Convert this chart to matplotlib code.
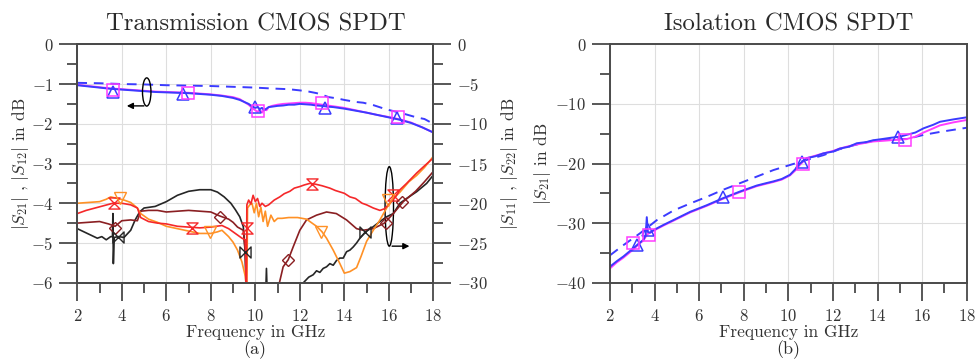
import numpy as np
import matplotlib
matplotlib.use("Agg")
import matplotlib.pyplot as plt
from matplotlib.ticker import MultipleLocator
from matplotlib.patches import Ellipse
from matplotlib.path import Path

plt.rcParams['font.family'] = 'serif'
plt.rcParams['font.serif'] = ['cmr10', 'DejaVu Serif']
plt.rcParams['mathtext.fontset'] = 'cm'
plt.rcParams['axes.formatter.use_mathtext'] = True

# ---------------- (a) transmission, left axis |S21|,|S12| ----------------
f_s21 = [2, 2.5, 3, 3.5, 4, 4.5, 5, 5.5, 6, 6.5, 7, 7.5, 8, 8.5, 9, 9.3, 9.5, 9.7, 9.85, 10.0, 10.1, 10.2,
         10.3, 10.4, 10.5, 10.6, 10.75, 11.0, 11.25, 11.5, 11.75, 12.0, 12.25, 12.5, 12.75, 13.0, 13.25, 13.5,
         13.75, 14.0, 14.5, 15.0, 15.5, 16.0, 16.5, 17.0, 17.5, 18.0]
s21_blue = [-1.03, -1.06, -1.09, -1.12, -1.14, -1.16, -1.18, -1.20, -1.21, -1.22, -1.23, -1.25, -1.27, -1.30,
            -1.35, -1.40, -1.45, -1.50, -1.56, -1.60, -1.58, -1.63, -1.60, -1.66, -1.62, -1.58, -1.57, -1.55,
            -1.54, -1.52, -1.52, -1.50, -1.51, -1.52, -1.54, -1.55, -1.57, -1.58, -1.60, -1.62, -1.67, -1.72,
            -1.78, -1.84, -1.90, -1.98, -2.09, -2.22]
s21_magenta = [-1.02, -1.05, -1.08, -1.11, -1.13, -1.15, -1.17, -1.19, -1.20, -1.21, -1.22, -1.24, -1.26, -1.29,
               -1.33, -1.38, -1.45, -1.52, -1.60, -1.66, -1.70, -1.65, -1.72, -1.62, -1.66, -1.58, -1.55, -1.52,
               -1.50, -1.49, -1.48, -1.47, -1.47, -1.48, -1.50, -1.52, -1.54, -1.56, -1.58, -1.60, -1.66, -1.72,
               -1.78, -1.83, -1.89, -1.97, -2.09, -2.22]
f_s21_dash = [2, 3, 4, 5, 6, 7, 8, 9, 10, 10.66, 11.5, 12.0, 12.4, 12.76, 13.0, 13.3, 13.66, 14.0, 14.5,
              14.85, 15.3, 15.9, 16.5, 17.25, 17.6, 18.0]
s21_dash = [-0.97, -0.98, -1.0, -1.01, -1.03, -1.04, -1.05, -1.07, -1.09, -1.11, -1.13, -1.16, -1.19, -1.23,
            -1.27, -1.33, -1.36, -1.40, -1.45, -1.47, -1.53, -1.64, -1.72, -1.84, -1.88, -2.0]
mk_blue_f = [3.61, 6.76, 9.99, 13.13, 16.35]
mk_blue_v = [-1.19, -1.26, -1.59, -1.61, -1.86]
mk_mag_f = [3.61, 6.99, 10.13, 12.98, 16.4]
mk_mag_v = [-1.15, -1.22, -1.69, -1.48, -1.82]

# ---------------- (a) right axis |S11|,|S22| ----------------
f_orange = [2.0, 2.5, 3.0, 3.3, 3.5, 3.8, 4.1, 4.4, 4.7, 4.85, 5.2, 5.6, 6.0, 6.5, 7.0, 7.5, 8.0, 8.3, 8.5,
            8.8, 9.0, 9.2, 9.4, 9.55, 9.62, 9.65, 9.75, 9.85, 9.95, 10.05, 10.15, 10.25, 10.35, 10.45, 10.55,
            10.7, 10.85, 11.0, 11.2, 11.5, 11.9, 12.3, 12.75, 13.0, 13.2, 13.5, 13.8, 14.0, 14.25, 14.55,
            14.75, 15.0, 15.3, 15.6, 15.9, 16.2, 16.5, 16.9, 17.25, 17.6, 18.0]
s_orange = [-20.0, -19.9, -19.8, -19.5, -19.2, -19.4, -19.6, -19.9, -20.6, -21.3, -22.0, -22.4, -22.9, -23.2,
            -23.5, -23.8, -23.8, -23.6, -23.4, -24.2, -24.9, -25.9, -27.4, -29.2, -31.0, -20.6, -20.2, -20.0,
            -21.2, -20.0, -21.7, -20.5, -22.3, -21.0, -22.9, -21.5, -22.3, -21.9, -21.9, -21.8, -21.8, -22.0,
            -22.9, -23.6, -24.4, -25.9, -27.6, -28.8, -28.6, -28.1, -26.7, -24.8, -23.4, -22.1, -20.6, -19.4,
            -18.6, -17.3, -16.5, -15.5, -14.1]
f_red = [2.0, 2.4, 2.8, 3.2, 3.6, 4.0, 4.4, 4.7, 4.85, 5.2, 5.6, 6.0, 6.5, 7.0, 7.5, 8.0, 8.5, 8.8, 9.0, 9.2,
         9.4, 9.55, 9.6, 9.62, 9.7, 9.8, 9.9, 10.0, 10.1, 10.2, 10.3, 10.45, 10.6, 10.85, 11.1, 11.3, 11.55,
         11.75, 12.0, 12.2, 12.45, 12.7, 13.0, 13.35, 13.6, 14.0, 14.25, 14.5, 14.8, 15.0, 15.3, 15.6, 15.8,
         16.05, 16.3, 16.5, 16.8, 17.25, 17.6, 18.0]
s_red = [-21.3, -20.9, -20.6, -20.3, -20.0, -20.0, -20.2, -20.6, -21.8, -22.3, -22.5, -22.6, -22.9, -23.0,
         -23.1, -23.0, -22.8, -23.2, -23.6, -24.0, -24.4, -24.6, -31.0, -20.2, -19.6, -20.1, -19.0, -19.8,
         -19.4, -20.4, -20.0, -20.4, -20.2, -19.6, -19.2, -18.8, -18.5, -18.1, -17.9, -17.7, -17.5, -17.6,
         -17.8, -18.1, -18.4, -18.75, -19.2, -19.4, -20.0, -20.2, -20.6, -20.9, -20.7, -20.0, -19.2, -18.3,
         -17.5, -16.2, -15.3, -14.3]
f_brown = [2.0, 2.5, 3.0, 3.4, 3.7, 4.0, 4.4, 4.7, 4.85, 5.2, 5.6, 6.0, 6.5, 7.0, 7.5, 8.0, 8.4, 8.8, 9.0,
           9.2, 9.46, 9.55, 9.62, 10.3, 11.0, 11.25, 11.48, 11.7, 12.0, 12.3, 12.75, 13.2, 13.64, 14.1,
           14.55, 14.85, 15.3, 15.8, 16.2, 16.65, 17.2, 17.6, 18.0]
s_brown = [-22.5, -22.4, -22.3, -22.6, -22.9, -22.2, -22.1, -22.2, -21.0, -20.9, -20.9, -21.1, -21.0, -20.9,
           -21.0, -21.1, -21.6, -22.0, -22.4, -23.0, -23.4, -26.0, -32.0, -36.0, -31.0, -28.0, -27.1, -25.5,
           -23.4, -22.1, -21.5, -21.1, -21.3, -22.1, -23.2, -23.4, -23.2, -22.5, -21.3, -19.8, -18.5, -17.3,
           -16.0]
f_black = [2.0, 2.3, 2.6, 2.9, 3.1, 3.3, 3.5, 3.58, 3.6, 3.62, 3.66, 3.85, 4.1, 4.4, 4.6, 4.8, 5.0, 5.5, 6.0,
           6.5, 7.0, 7.5, 8.0, 8.3, 8.6, 8.9, 9.1, 9.3, 9.46, 9.54, 9.6, 10.0, 10.45, 10.5, 10.55, 11.0, 12.0,
           12.16, 12.4, 12.6, 12.75, 12.9, 13.05, 13.2, 13.35, 13.5, 13.65, 13.8, 13.95, 14.1, 14.25, 14.4,
           14.55, 14.7, 14.95, 15.3, 15.6, 15.9, 16.2, 16.5, 16.8, 17.25, 17.7, 18.0]
s_black = [-23.2, -23.6, -24.0, -24.4, -24.2, -24.6, -24.2, -24.2, -21.3, -27.6, -24.3, -24.2, -24.3, -23.4,
           -22.1, -21.1, -20.6, -20.4, -19.8, -19.0, -18.5, -18.3, -18.3, -18.6, -19.2, -20.0, -20.8, -21.7,
           -22.95, -26.1, -33.0, -35.0, -33.0, -28.2, -33.0, -36.0, -33.0, -30.0, -29.3, -29.0, -28.5, -28.7,
           -28.2, -28.0, -27.6, -27.8, -27.2, -26.9, -26.9, -26.1, -25.9, -25.5, -25.0, -24.4, -23.6, -22.95,
           -22.3, -21.7, -21.3, -20.0, -19.4, -18.55, -17.5, -16.45]
mk_red_f = [3.65, 7.14, 9.61, 12.53, 16.2]
mk_red_v = [-20.0, -23.1, -23.1, -17.6, -19.0]
mk_orange_f = [3.92, 7.96, 12.97, 15.98]
mk_orange_v = [-19.4, -23.6, -23.6, -19.6]
mk_brown_f = [3.69, 8.42, 11.48, 15.85, 16.6]
mk_brown_v = [-23.1, -21.7, -27.1, -22.5, -19.8]
mk_black_f = [3.84, 9.54, 14.95]
mk_black_v = [-24.2, -26.1, -23.6]

# ---------------- (b) isolation ----------------
f_iso = [2, 2.3, 2.6, 3.05, 3.3, 3.5, 3.6, 3.65, 3.7, 3.8, 3.94, 4.4, 4.84, 5.6, 6.34, 7.08, 7.83, 8.58, 9.0,
         9.33, 9.7, 10.07, 10.3, 10.52, 10.82, 11.2, 11.57, 12.0, 12.3, 12.7, 13.07, 13.5, 13.8, 14.2, 14.56,
         15.0, 15.3, 15.7, 16.06, 16.5, 16.8, 17.4, 18.0]
iso_blue = [-37.3, -36.4, -35.6, -34.2, -33.4, -32.8, -32.0, -29.0, -31.5, -31.6, -31.2, -30.3, -29.5, -28.1,
            -27.0, -25.8, -24.7, -23.7, -23.3, -23.0, -22.6, -21.9, -21.0, -20.0, -19.1, -18.8, -18.3, -18.0,
            -17.5, -17.2, -16.6, -16.4, -16.1, -15.9, -15.7, -15.5, -15.2, -14.8, -14.1, -13.5, -13.0, -12.6,
            -12.25]
iso_magenta = [-37.6, -36.6, -35.8, -34.4, -33.5, -32.9, -32.3, -32.0, -31.8, -31.6, -31.3, -30.4, -29.6,
               -28.2, -27.1, -25.9, -24.8, -23.8, -23.4, -23.1, -22.7, -22.0, -21.2, -20.2, -19.1, -18.7,
               -18.3, -17.9, -17.5, -17.1, -16.8, -16.5, -16.3, -16.2, -16.1, -16.0, -15.9, -15.5, -14.8,
               -14.1, -13.6, -13.1, -12.7]
f_iso_dash = [2, 2.6, 3.35, 4.1, 4.84, 5.6, 6.34, 7.08, 7.83, 8.58, 9.33, 10.07, 10.82, 11.57, 12.3, 13.07,
              13.8, 14.56, 15.3, 16.06, 16.8, 18.0]
iso_dash = [-35.4, -33.7, -31.7, -29.5, -27.9, -26.7, -25.6, -24.4, -23.3, -22.2, -21.1, -20.25, -19.4, -18.6,
            -17.6, -16.8, -16.2, -15.9, -15.9, -15.2, -14.7, -14.0]
mk_iso_blue_f = [3.2, 3.72, 7.08, 10.6, 14.93]
mk_iso_blue_v = [-33.7, -31.2, -25.7, -19.7, -15.5]
mk_iso_mag_f = [3.05, 3.76, 7.8, 10.67, 15.23]
mk_iso_mag_v = [-33.4, -32.0, -24.8, -20.0, -16.1]

# ---------------- styling ----------------
BLUE = '#3b3bff'
MAG = '#ff3cff'
RED = '#f5282a'
ORANGE = '#ff9126'
BROWN = '#8a1f22'
BLACK = '#262626'
SPINE = '#4a4a4a'
TXT = '#333333'
LBL = 12.5
TICK = 12

hourglass = Path([(-1, 1), (1, 1), (-1, -1), (1, -1), (-1, 1)],
                 [Path.MOVETO, Path.LINETO, Path.LINETO, Path.LINETO, Path.CLOSEPOLY])
bowtie = Path([(-1, 1), (-1, -1), (1, 1), (1, -1), (-1, 1)],
              [Path.MOVETO, Path.LINETO, Path.LINETO, Path.LINETO, Path.CLOSEPOLY])

fig = plt.figure(figsize=(9.76, 3.59), dpi=100)
axA = fig.add_axes([0.0792, 0.2125, 0.3648, 0.6641])
axB = fig.add_axes([0.625, 0.2125, 0.3655, 0.6641])


def spines_ticks(ax, **kw):
    for s in ax.spines.values():
        s.set_color(SPINE)
        s.set_linewidth(1.4)
    ax.tick_params(which='major', direction='out', length=13, width=1.3, color=SPINE,
                   labelsize=TICK, labelcolor=TXT, **kw)
    ax.tick_params(which='minor', direction='out', length=7, width=1.3, color=SPINE)


def style(ax, ymajor, yminor):
    ax.set_xlim(2, 18)
    ax.xaxis.set_major_locator(MultipleLocator(2))
    ax.xaxis.set_minor_locator(MultipleLocator(1))
    ax.yaxis.set_major_locator(MultipleLocator(ymajor))
    ax.yaxis.set_minor_locator(MultipleLocator(yminor))
    ax.grid(True, which='major', color='#dedede', linewidth=0.8)
    ax.set_axisbelow(True)
    spines_ticks(ax, top=False, right=False)
    ax.tick_params(axis='x', which='major', pad=5)
    ax.tick_params(axis='y', which='major', pad=4)
    ax.set_xlabel('Frequency in GHz', fontsize=LBL, color=TXT, labelpad=1)


# ---- panel (a)
style(axA, 1, 0.5)
axA.set_ylim(-6, 0)
axA.plot(f_s21_dash, s21_dash, color=BLUE, lw=1.4, ls=(0, (5, 3.5)))
axA.plot(f_s21, s21_magenta, color=MAG, lw=1.4)
axA.plot(f_s21, s21_blue, color=BLUE, lw=1.4)
axA.plot(mk_blue_f, mk_blue_v, ls='none', marker='^', ms=8, mfc='none', mec=BLUE, mew=1.1)
axA.plot(mk_mag_f, mk_mag_v, ls='none', marker='s', ms=8, mfc='none', mec=MAG, mew=1.1)
axA.set_ylabel(r'$|S_{21}|$ , $|S_{12}|$ in dB', fontsize=LBL, color=TXT, labelpad=0)
axA.set_title('Transmission CMOS SPDT', fontsize=17.8, color='#2a2a2a', pad=10)

axA2 = axA.twinx()
axA2.set_ylim(-30, 0)
axA2.yaxis.set_major_locator(MultipleLocator(5))
axA2.yaxis.set_minor_locator(MultipleLocator(2.5))
spines_ticks(axA2, pad=4)
axA2.plot(f_black, s_black, color=BLACK, lw=1.2)
axA2.plot(f_brown, s_brown, color=BROWN, lw=1.2)
axA2.plot(f_orange, s_orange, color=ORANGE, lw=1.2)
axA2.plot(f_red, s_red, color=RED, lw=1.2)
axA2.plot(mk_red_f, mk_red_v, ls='none', marker=hourglass, ms=8, mfc='none', mec=RED, mew=1.0)
axA2.plot(mk_orange_f, mk_orange_v, ls='none', marker='v', ms=8, mfc='none', mec=ORANGE, mew=1.0)
axA2.plot(mk_brown_f, mk_brown_v, ls='none', marker='D', ms=6, mfc='none', mec=BROWN, mew=1.0)
axA2.plot(mk_black_f, mk_black_v, ls='none', marker=bowtie, ms=8, mfc='none', mec=BLACK, mew=1.0)
axA2.set_ylabel(r'$|S_{11}|$ , $|S_{22}|$ in dB', fontsize=LBL, color=TXT, labelpad=8)

# annotations (ellipses with arrows) in left-axis coordinates
axA.add_patch(Ellipse((5.12, -1.2), 0.38, 0.71, fill=False, ec='black', lw=1.0, zorder=5))
axA.annotate('', xy=(4.1, -1.55), xytext=(5.12, -1.55),
             arrowprops=dict(arrowstyle='-|>', color='black', lw=1.0, mutation_scale=9))
axA.add_patch(Ellipse((16.02, -4.08), 0.38, 2.0, fill=False, ec='black', lw=1.0, zorder=5))
axA.annotate('', xy=(17.05, -5.08), xytext=(16.02, -5.08),
             arrowprops=dict(arrowstyle='-|>', color='black', lw=1.0, mutation_scale=9))

fig.text(0.261, 0.025, '(a)', ha='center', va='center', fontsize=13, color='#2a2a2a')

# ---- panel (b)
style(axB, 10, 5)
axB.set_ylim(-40, 0)
axB.plot(f_iso_dash, iso_dash, color=BLUE, lw=1.4, ls=(0, (5, 3.5)))
axB.plot(f_iso, iso_magenta, color=MAG, lw=1.4)
axB.plot(f_iso, iso_blue, color=BLUE, lw=1.4)
axB.plot(mk_iso_blue_f, mk_iso_blue_v, ls='none', marker='^', ms=8, mfc='none', mec=BLUE, mew=1.1)
axB.plot(mk_iso_mag_f, mk_iso_mag_v, ls='none', marker='s', ms=8, mfc='none', mec=MAG, mew=1.1)
axB.set_ylabel(r'$|S_{21}|$ in dB', fontsize=LBL, color=TXT, labelpad=2)
axB.set_title('Isolation CMOS SPDT', fontsize=17.8, color='#2a2a2a', pad=10)
fig.text(0.8075, 0.025, '(b)', ha='center', va='center', fontsize=13, color='#2a2a2a')

fig.savefig('out.png', dpi=100)
